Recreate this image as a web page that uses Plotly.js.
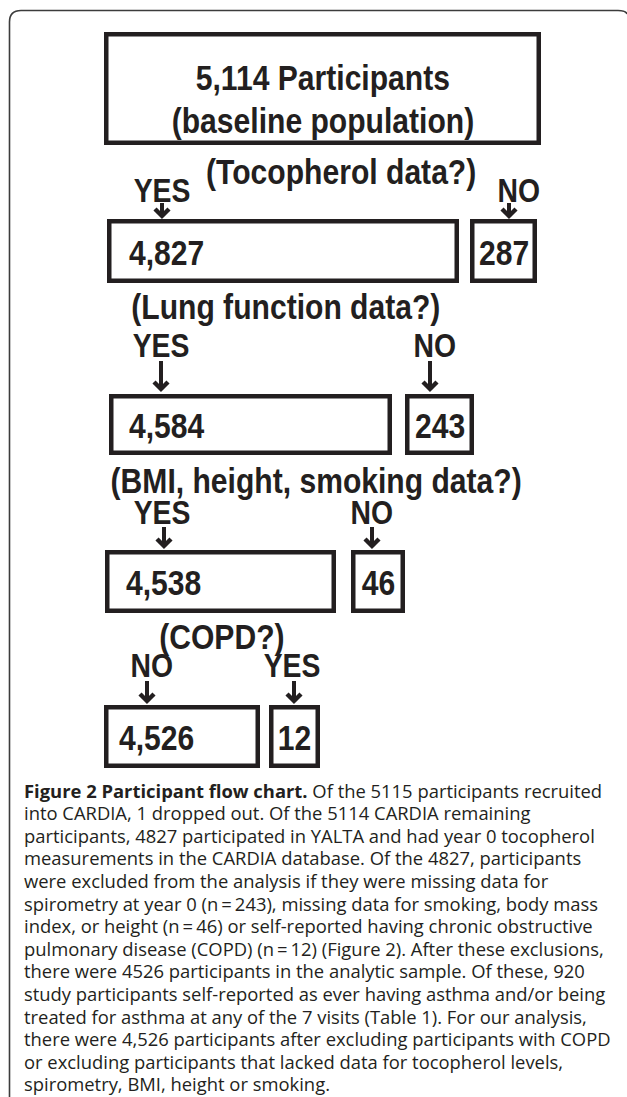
<!DOCTYPE html>
<html>
<head>
<meta charset="utf-8">
<script src="https://cdn.plot.ly/plotly-3.0.1.min.js"></script>
<style>
html,body{margin:0;padding:0;background:#fff;}
#chart{width:627px;height:1097px;}
</style>
</head>
<body>
<div id="chart"></div>
<script>
// ---------------- DATA ----------------
const baselineCount = 5114;
const baselineLines = ['Participants', '(baseline population)'];
const questions = ['(Tocopherol data?)', '(Lung function data?)', '(BMI, height, smoking data?)', '(COPD?)'];
const keptLabels = ['YES', 'YES', 'YES', 'NO'];
const excludedLabels = ['NO', 'NO', 'NO', 'YES'];
const keptCounts = [4827, 4584, 4538, 4526];
const excludedCounts = [287, 243, 46, 12];
const captionBold = 'Figure 2 Participant flow chart.';
const captionLines = [
  ' Of the 5115 participants recruited',
  'into CARDIA, 1 dropped out. Of the 5114 CARDIA remaining',
  'participants, 4827 participated in YALTA and had year 0 tocopherol',
  'measurements in the CARDIA database. Of the 4827, participants',
  'were excluded from the analysis if they were missing data for',
  'spirometry at year 0 (n\u2009=\u2009243), missing data for smoking, body mass',
  'index, or height (n\u2009=\u200946) or self-reported having chronic obstructive',
  'pulmonary disease (COPD) (n\u2009=\u200912) (Figure 2). After these exclusions,',
  'there were 4526 participants in the analytic sample. Of these, 920',
  'study participants self-reported as ever having asthma and/or being',
  'treated for asthma at any of the 7 visits (Table 1). For our analysis,',
  'there were 4,526 participants after excluding participants with COPD',
  'or excluding participants that lacked data for tocopherol levels,',
  'spirometry, BMI, height or smoking.'
];

// ---------------- GEOMETRY (positions/sizes, pixel-space axes) ----------------
const W = 627, H = 1097;
const topBox = {x0: 104, x1: 541, y0: 32, y1: 145, lineY: [77, 120]};
const steps = [
  {qY: 171, qX: 341, lblY: 190, keptLblX: 162, exLblX: 519, arrY0: 203, arrY1: 218, keptArrX: 162, exArrX: 509,
   box: {y0: 219, y1: 283, kx0: 107, kx1: 459, ex0: 470, ex1: 537}, numX: 127},
  {qY: 306, qX: 286, lblY: 345, keptLblX: 161, exLblX: 435, arrY0: 361, arrY1: 391, keptArrX: 161, exArrX: 430,
   box: {y0: 394, y1: 455, kx0: 109, kx1: 392, ex0: 405, ex1: 474}, numX: 127},
  {qY: 480, qX: 316, lblY: 512, keptLblX: 162, exLblX: 372, arrY0: 527, arrY1: 548, keptArrX: 164, exArrX: 372,
   box: {y0: 550, y1: 613, kx0: 105, kx1: 336, ex0: 351, ex1: 405}, numX: 124},
  {qY: 636, qX: 222, lblY: 665, keptLblX: 152, exLblX: 292, arrY0: 681, arrY1: 703, keptArrX: 147, exArrX: 294,
   box: {y0: 705, y1: 768, kx0: 104, kx1: 260, ex0: 269, ex1: 320}, numX: 117}
];
const capX = 22, capY0 = 790, capDY = 22.6;

const INK = '#231f20';
const BOLD_FONT = 'Liberation Sans, Arial, sans-serif';
const CAP_FONT = 'Open Sans, Noto Sans, sans-serif';
const CONDENSE = 0.86;
const LW = 4.5;
const fmt = n => n.toLocaleString('en-US');

const shapes = [];
const annotations = [];
const condensed = []; // [annotation index, origin]

function box(x0, x1, y0, y1) {
  const h = LW / 2;
  shapes.push({type: 'rect', xref: 'x', yref: 'y', x0: x0 + h, x1: x1 - h, y0: y0 + h, y1: y1 - h,
    line: {color: INK, width: LW}, fillcolor: 'rgba(0,0,0,0)'});
}
function arrow(x, y0, y1) {
  shapes.push({type: 'line', xref: 'x', yref: 'y', x0: x, x1: x, y0: y0, y1: y1 - 3,
    line: {color: INK, width: 4}});
  shapes.push({type: 'path', xref: 'x', yref: 'y',
    path: `M ${x - 7},${y1 - 9} L ${x},${y1 - 2} L ${x + 7},${y1 - 9}`,
    line: {color: INK, width: 4.4}});
}
function txt(text, x, y, size, xanchor) {
  condensed.push([annotations.length, xanchor === 'left' ? '0% 50%' : '50% 50%']);
  annotations.push({text: text, x: x, y: y, xref: 'x', yref: 'y', showarrow: false,
    xanchor: xanchor || 'center', yanchor: 'middle',
    font: {family: BOLD_FONT, size: size, color: INK, weight: 700}});
}

// outer frame (rounded corners)
shapes.push({type: 'path', xref: 'x', yref: 'y',
  path: `M 9.5,${H} L 9.5,22 Q 9.5,10.5 21,10.5 L 618,10.5 Q 626,10.5 627,14`,
  line: {color: '#3c3c3c', width: 1.6}});

// baseline box
box(topBox.x0, topBox.x1, topBox.y0, topBox.y1);
const cx = (topBox.x0 + topBox.x1) / 2;
txt(fmt(baselineCount) + ' ' + baselineLines[0], cx, topBox.lineY[0], 35);
txt(baselineLines[1], cx, topBox.lineY[1], 35);

steps.forEach((s, i) => {
  txt(questions[i], s.qX, s.qY, 35);
  txt(keptLabels[i], s.keptLblX, s.lblY, 33);
  txt(excludedLabels[i], s.exLblX, s.lblY, 33);
  arrow(s.keptArrX, s.arrY0, s.arrY1);
  arrow(s.exArrX, s.arrY0, s.arrY1);
  box(s.box.kx0, s.box.kx1, s.box.y0, s.box.y1);
  box(s.box.ex0, s.box.ex1, s.box.y0, s.box.y1);
  const my = (s.box.y0 + s.box.y1) / 2 + 1;
  txt(fmt(keptCounts[i]), s.numX, my, 35, 'left');
  txt(fmt(excludedCounts[i]), (s.box.ex0 + s.box.ex1) / 2, my, 35);
});

// caption
captionLines.forEach((line, i) => {
  const t = i === 0 ? '<b>' + captionBold + '</b>' + line : line;
  annotations.push({text: t, x: capX, y: capY0 + i * capDY, xref: 'x', yref: 'y', showarrow: false,
    xanchor: 'left', yanchor: 'middle', font: {family: CAP_FONT, size: 18.4, color: INK}});
});

const layout = {
  width: W, height: H,
  margin: {l: 0, r: 0, t: 0, b: 0, pad: 0},
  paper_bgcolor: '#ffffff', plot_bgcolor: '#ffffff',
  xaxis: {range: [0, W], visible: false, fixedrange: true},
  yaxis: {range: [H, 0], visible: false, fixedrange: true},
  showlegend: false,
  shapes: shapes,
  annotations: annotations
};
Plotly.newPlot('chart', [], layout, {displayModeBar: false, staticPlot: true}).then(gd => {
  const origins = {};
  condensed.forEach(([i, o]) => { origins[i] = o; });
  gd.querySelectorAll('g.annotation').forEach(g => {
    const idx = +g.getAttribute('data-index');
    if (!(idx in origins)) return;
    const t = g.querySelector('text.annotation-text');
    if (!t) return;
    t.style.transformBox = 'fill-box';
    t.style.transformOrigin = origins[idx];
    t.style.transform = `scaleX(${CONDENSE})`;
  });
});
</script>
</body>
</html>
